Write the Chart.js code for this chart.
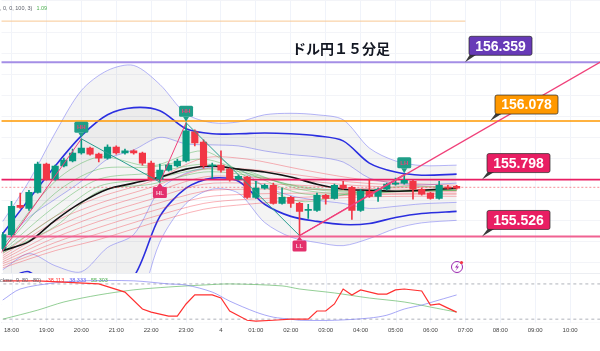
<!DOCTYPE html>
<html>
<head>
<meta charset="utf-8">
<script src="https://cdn.jsdelivr.net/npm/chart.js@4.4.1/dist/chart.umd.min.js"></script>
<style>
  html, body { margin: 0; padding: 0; background: #fff; }
  #wrap { width: 600px; height: 351px; position: relative; }
</style>
</head>
<body>
<div id="wrap"><canvas id="chart"></canvas></div>
<script>
// bar index on the x axis: 0 = 18:00, one step = one 15 minute candle
const hourLabels = ['18:00', '19:00', '20:00', '21:00', '22:00', '23:00', '4', '01:00', '02:00',
    '03:00', '04:00', '05:00', '06:00', '07:00', '08:00', '09:00', '10:00'];
const candleStart = -1;   // first visible candle is 17:45

// USD/JPY 15m candles
const opens  = [155.468, 155.535, 155.675, 155.660, 155.737, 155.872, 155.800, 155.863, 155.887, 155.925,
                155.949, 155.920, 155.901, 155.954, 155.925, 155.935, 155.925, 155.877, 155.800, 155.843,
                155.863, 155.887, 156.026, 155.978, 155.863, 155.867, 155.848, 155.800, 155.810, 155.713,
                155.757, 155.771, 155.684, 155.713, 155.684, 155.651, 155.651, 155.723, 155.708, 155.771,
                155.761, 155.651, 155.742, 155.718, 155.752, 155.776, 155.781, 155.790, 155.752, 155.733,
                155.708, 155.761, 155.766];
const closes = [155.535, 155.670, 155.665, 155.737, 155.872, 155.800, 155.863, 155.891, 155.925, 155.949,
                155.920, 155.901, 155.954, 155.925, 155.935, 155.925, 155.877, 155.800, 155.843, 155.867,
                155.887, 156.031, 155.973, 155.863, 155.867, 155.843, 155.800, 155.814, 155.713, 155.757,
                155.771, 155.684, 155.713, 155.684, 155.646, 155.656, 155.723, 155.708, 155.771, 155.757,
                155.651, 155.742, 155.718, 155.752, 155.776, 155.781, 155.795, 155.752, 155.728, 155.708,
                155.771, 155.757, 155.757];
const highs  = [155.545, 155.694, 155.733, 155.747, 155.882, 155.877, 155.867, 155.901, 155.944, 155.993,
                155.954, 155.925, 155.964, 155.959, 155.944, 155.940, 155.930, 155.887, 155.872, 155.877,
                155.896, 156.070, 156.036, 155.988, 155.877, 155.935, 155.853, 155.819, 155.814, 155.790,
                155.776, 155.781, 155.757, 155.718, 155.689, 155.680, 155.733, 155.728, 155.776, 155.790,
                155.766, 155.752, 155.800, 155.757, 155.781, 155.805, 155.824, 155.795, 155.757, 155.737,
                155.790, 155.771, 155.771];
const lows   = [155.458, 155.526, 155.660, 155.651, 155.733, 155.795, 155.795, 155.858, 155.882, 155.920,
                155.915, 155.882, 155.896, 155.920, 155.920, 155.920, 155.867, 155.795, 155.786, 155.838,
                155.858, 155.882, 155.959, 155.853, 155.805, 155.834, 155.790, 155.795, 155.708, 155.708,
                155.752, 155.680, 155.680, 155.665, 155.530, 155.612, 155.646, 155.680, 155.704, 155.752,
                155.607, 155.646, 155.713, 155.694, 155.747, 155.771, 155.776, 155.704, 155.723, 155.704,
                155.704, 155.752, 155.752];

// bollinger bands (1, 2, 3 sigma) and the black moving average
const bandIdx = [-1, 2, 5, 8, 11, 14, 17, 20, 23, 26, 29, 32, 35, 38, 41, 44, 47, 51];
const bbUp3 = [155.598, 155.790, 156.021, 156.224, 156.320, 156.344, 156.253, 156.113, 156.070, 156.074,
               156.108, 156.115, 156.108, 156.084, 155.949, 155.887, 155.865, 155.867];
const bbUp2 = [155.540, 155.704, 155.863, 156.007, 156.108, 156.142, 156.127, 156.041, 156.017, 156.017,
               156.021, 156.017, 156.007, 155.983, 155.877, 155.834, 155.819, 155.824];
const bbUp1 = [155.482, 155.617, 155.704, 155.790, 155.896, 155.940, 156.000, 155.969, 155.964, 155.959,
               155.935, 155.918, 155.906, 155.882, 155.805, 155.781, 155.773, 155.781];
const bbLo1 = [155.367, 155.444, 155.386, 155.357, 155.473, 155.535, 155.749, 155.829, 155.858, 155.848,
               155.766, 155.721, 155.699, 155.684, 155.660, 155.670, 155.682, 155.689];
const bbLo2 = [155.309, 155.357, 155.227, 155.140, 155.261, 155.333, 155.622, 155.757, 155.805, 155.790,
               155.680, 155.622, 155.598, 155.583, 155.588, 155.617, 155.636, 155.646];
const bbLo3 = [155.251, 155.270, 155.068, 154.924, 155.049, 155.131, 155.499, 155.684, 155.752, 155.733,
               155.593, 155.523, 155.497, 155.482, 155.516, 155.564, 155.591, 155.603];
const maBlack = [155.458, 155.501, 155.603, 155.689, 155.752, 155.781, 155.810, 155.848, 155.863, 155.848,
                 155.834, 155.810, 155.776, 155.752, 155.747, 155.742, 155.747, 155.757];

// EMA ribbons
const ribbonIdx = [-1, 5, 10, 16, 22, 27, 33, 39, 45, 51];
const emaG1 = [155.477, 155.790, 155.906, 155.863, 155.935, 155.810, 155.694, 155.733, 155.766, 155.757];
const emaG2 = [155.468, 155.733, 155.848, 155.858, 155.896, 155.829, 155.733, 155.728, 155.747, 155.752];
const emaG3 = [155.458, 155.670, 155.800, 155.829, 155.872, 155.838, 155.752, 155.728, 155.742, 155.747];
const emaG4 = [155.453, 155.622, 155.766, 155.800, 155.848, 155.829, 155.761, 155.737, 155.742, 155.747];
const emaG5 = [155.448, 155.574, 155.742, 155.776, 155.834, 155.819, 155.766, 155.742, 155.742, 155.747];
const emaR1 = [155.444, 155.622, 155.713, 155.790, 155.901, 155.896, 155.848, 155.805, 155.781, 155.771];
const emaR2 = [155.434, 155.598, 155.684, 155.761, 155.848, 155.848, 155.819, 155.786, 155.771, 155.761];
const emaR3 = [155.424, 155.569, 155.656, 155.733, 155.810, 155.810, 155.795, 155.771, 155.761, 155.757];
const emaR4 = [155.415, 155.545, 155.627, 155.704, 155.776, 155.781, 155.771, 155.757, 155.752, 155.747];
const emaR5 = [155.405, 155.521, 155.598, 155.675, 155.742, 155.752, 155.752, 155.747, 155.742, 155.742];
const emaR6 = [155.396, 155.497, 155.569, 155.646, 155.713, 155.728, 155.733, 155.733, 155.733, 155.733];
const emaR7 = [155.386, 155.477, 155.540, 155.617, 155.684, 155.704, 155.713, 155.723, 155.728, 155.728];
const emaR8 = [155.376, 155.458, 155.511, 155.588, 155.656, 155.680, 155.699, 155.713, 155.718, 155.718];

// zigzag swings
const swingIdx   = [-2, 8, 17, 20, 33, 45];
const swingPrice = [155.400, 155.993, 155.786, 156.070, 155.530, 155.824];
const swingLabel = ['', 'HH', 'HL', 'HH', 'LL', 'LH'];

// drawn levels and the trend line
const levelValues = [156.359, 156.078, 155.798, 155.526];
const topLevel = 156.556;
const lastPrice = 155.761;
const trendIdx = [33, 67.5];
const trendPrice = [155.530, 156.361];

// oscillator pane (bar index, value)
const oscRed = [[-1, 94], [3, 94], [10, 80], [13, 43], [15, -34], [16, -48], [18, -66], [19, -66], [20, -11],
                [21, 30], [23, 30], [24, 16], [25, -43], [27, -85], [28, -89], [30, -85], [32, -80], [34, -80],
                [35, -43], [36, -43], [37, -11], [38, 57], [39, 30], [40, 53], [42, 34], [43, 34], [44, 53],
                [45, 57], [47, 48], [48, -16], [49, -11], [50, -30], [51, -48]];
const oscBlue = [[-1, 7], [1, 57], [5, 85], [8, 94], [14, 94], [18, 80], [20, 75], [23, 43], [25, 2], [28, -48],
                 [30, -71], [32, -80], [33, -85], [37, -85], [41, -75], [43, -62], [45, -34], [47, -16], [49, 7], [51, 30]];
const oscGreen = [[-1, -80], [3, -39], [6, -2], [10, 30], [14, 53], [18, 66], [22, 75], [25, 80], [31, 71],
                  [33, 57], [37, 39], [41, 16], [45, -2], [48, -25], [51, -48]];
const oscLevels = [80, -80];

// ---------------------------------------------------------------
const UP = '#089981';
const DOWN = '#f23645';
const PANE_TOP = 273;

const pts = (xs, ys) => xs.map((x, k) => ({ x: x, y: ys[k] }));
const pairs = arr => arr.map(p => ({ x: p[0], y: p[1] }));

function line(data, color, width, order, extra) {
    return Object.assign({
        type: 'line', data: data, borderColor: color, borderWidth: width,
        pointRadius: 0, fill: false, tension: 0.3, order: order, yAxisID: 'y'
    }, extra || {});
}

const datasets = [];

// bands (index 0..5) with fills
datasets.push(line(pts(bandIdx, bbUp3), 'rgba(120,120,240,0.55)', 1, 40, { fill: 5, backgroundColor: 'rgba(0,0,0,0.045)' }));
datasets.push(line(pts(bandIdx, bbUp2), '#2b2fe0', 1.6, 39, { fill: 2, backgroundColor: 'rgba(0,0,0,0.035)' }));
datasets.push(line(pts(bandIdx, bbUp1), 'rgba(120,120,240,0.55)', 1, 39));
datasets.push(line(pts(bandIdx, bbLo1), 'rgba(120,120,240,0.55)', 1, 39, { fill: 4, backgroundColor: 'rgba(0,0,0,0.02)' }));
datasets.push(line(pts(bandIdx, bbLo2), '#2b2fe0', 1.6, 39));
datasets.push(line(pts(bandIdx, bbLo3), 'rgba(120,120,240,0.55)', 1, 39));

[emaR8, emaR7, emaR6, emaR5, emaR4, emaR3, emaR2, emaR1].forEach(function (r) {
    datasets.push(line(pts(ribbonIdx, r), 'rgba(242,54,69,0.38)', 1, 30));
});
[emaG5, emaG4, emaG3, emaG2, emaG1].forEach(function (g) {
    datasets.push(line(pts(ribbonIdx, g), 'rgba(76,175,80,0.45)', 1, 29));
});
datasets.push(line(pts(bandIdx, maBlack), '#131313', 1.6, 28));

// horizontal levels
const levelColors = ['#a48ee6', '#ff9800', '#e91e63', '#f06292'];
const levelWidths = [2, 1.6, 1.6, 2];
levelValues.forEach(function (v, k) {
    datasets.push(line([{ x: -3, y: v }, { x: 70, y: v }], levelColors[k], levelWidths[k], 20, { tension: 0 }));
});
datasets.push(line([{ x: -3, y: topLevel }, { x: 52, y: topLevel }], '#f8c894', 1, 20, { tension: 0 }));
datasets.push(line([{ x: -3, y: lastPrice }, { x: 70, y: lastPrice }], 'rgba(242,54,69,0.55)', 1, 20,
    { tension: 0, borderDash: [2, 2] }));

// candles
const candleColor = opens.map((o, k) => closes[k] >= o ? UP : DOWN);
datasets.push({
    type: 'bar', order: 12, yAxisID: 'y', grouped: false, barThickness: 1,
    data: opens.map((o, k) => ({ x: candleStart + k, y: [lows[k], highs[k]] })),
    backgroundColor: candleColor
});
datasets.push({
    type: 'bar', order: 11, yAxisID: 'y', grouped: false, barThickness: 6.5, minBarLength: 1,
    data: opens.map((o, k) => ({ x: candleStart + k, y: [o, closes[k]] })),
    backgroundColor: candleColor
});

// zigzag + trend line
datasets.push(line(pts(swingIdx, swingPrice), '#2a9d8f', 1, 10, {
    tension: 0,
    segment: { borderColor: c => c.p1.parsed.y > c.p0.parsed.y ? '#f0407a' : '#2a9d8f' }
}));
datasets.push(line(pts(trendIdx, trendPrice), '#f0407a', 1.2, 9, { tension: 0 }));

// oscillator pane
datasets.push(line([{ x: -3, y: oscLevels[0] }, { x: 70, y: oscLevels[0] }], '#b0b3bb', 1, 5,
    { tension: 0, borderDash: [3, 3], yAxisID: 'osc', paneStart: true }));
datasets.push(line([{ x: -3, y: oscLevels[1] }, { x: 70, y: oscLevels[1] }], '#b0b3bb', 1, 4,
    { tension: 0, borderDash: [3, 3], yAxisID: 'osc' }));
datasets.push(line(pairs(oscGreen), 'rgba(76,175,80,0.6)', 1, 3, { yAxisID: 'osc', tension: 0.3 }));
datasets.push(line(pairs(oscBlue), 'rgba(110,110,240,0.6)', 1, 2, { yAxisID: 'osc', tension: 0.3 }));
datasets.push(line(pairs(oscRed), '#ff3030', 1.2, 1, { yAxisID: 'osc', tension: 0 }));

function roundRect(ctx, x, y, w, h, r) {
    ctx.beginPath();
    ctx.moveTo(x + r, y);
    ctx.arcTo(x + w, y, x + w, y + h, r);
    ctx.arcTo(x + w, y + h, x, y + h, r);
    ctx.arcTo(x, y + h, x, y, r);
    ctx.arcTo(x, y, x + w, y, r);
    ctx.closePath();
}

// writes coloured text pieces one after another
function textRun(ctx, parts, x, y, gap) {
    parts.forEach(function (p) {
        ctx.fillStyle = p[1];
        ctx.fillText(p[0], x, y);
        x += ctx.measureText(p[0]).width + gap;
    });
}

const overlay = {
    id: 'overlay',
    beforeDatasetDraw: function (chart, args) {
        if (!chart.data.datasets[args.index].paneStart) return;
        // blank the lower pane, then redraw its grid
        const ctx = chart.ctx, area = chart.chartArea, xs = chart.scales.x;
        ctx.save();
        ctx.fillStyle = '#fff';
        ctx.fillRect(area.left, PANE_TOP, area.width, area.bottom - PANE_TOP);
        ctx.strokeStyle = '#f0f3fa';
        ctx.lineWidth = 1;
        xs.ticks.forEach(function (t) {
            const x = Math.round(xs.getPixelForValue(t.value)) + 0.5;
            ctx.beginPath();
            ctx.moveTo(x, PANE_TOP);
            ctx.lineTo(x, area.bottom);
            ctx.stroke();
        });
        ctx.strokeStyle = '#eceef2';
        ctx.beginPath();
        ctx.moveTo(area.left, PANE_TOP + 0.5);
        ctx.lineTo(area.right, PANE_TOP + 0.5);
        ctx.stroke();
        ctx.restore();
    },
    afterDraw: function (chart) {
        const ctx = chart.ctx, xs = chart.scales.x, ys = chart.scales.y;
        ctx.save();

        // title
        ctx.fillStyle = '#131722';
        ctx.font = 'bold 14px "Noto Sans CJK JP"';
        ctx.textBaseline = 'middle';
        ctx.fillText('ドル円１５分足', 292, 49);

        // level callouts
        const boxX = [469, 495, 487, 487];
        const boxTip = [465, 490, 482, 482];
        const boxColors = ['#673ab7', '#ff9800', '#e91e63', '#e91e63'];
        levelValues.forEach(function (v, k) {
            const py = ys.getPixelForValue(v);
            const bx = boxX[k], by = py - 26, bw = 63, bh = 19;
            ctx.fillStyle = '#3a3a3a';
            ctx.beginPath();
            ctx.moveTo(bx + 1, by + bh - 1);
            ctx.lineTo(bx + 8, by + bh - 1);
            ctx.lineTo(boxTip[k], py);
            ctx.closePath();
            ctx.fill();
            roundRect(ctx, bx, by, bw, bh, 2);
            ctx.fillStyle = boxColors[k];
            ctx.fill();
            ctx.strokeStyle = 'rgba(40,40,40,0.7)';
            ctx.lineWidth = 1;
            ctx.stroke();
            ctx.fillStyle = '#fff';
            ctx.font = 'bold 14px "Liberation Sans"';
            ctx.textAlign = 'center';
            ctx.fillText(v.toFixed(3), bx + bw / 2, by + bh / 2 + 1);
        });

        // zigzag markers
        ctx.font = 'bold 6px "Liberation Sans"';
        ctx.textAlign = 'center';
        swingIdx.forEach(function (i, k) {
            if (!swingLabel[k]) return;
            const px = xs.getPixelForValue(i), py = ys.getPixelForValue(swingPrice[k]);
            const isHigh = swingLabel[k] === 'HH' || swingLabel[k] === 'LH';
            const w = 14, h = 11;
            const top = isHigh ? py - 6 - h : py + 5;
            ctx.fillStyle = isHigh ? '#1f9e88' : '#e3306c';
            roundRect(ctx, px - w / 2, top, w, h, 1.5);
            ctx.fill();
            ctx.beginPath();
            if (isHigh) {
                ctx.moveTo(px - 3, top + h); ctx.lineTo(px + 3, top + h); ctx.lineTo(px, py - 1);
            } else {
                ctx.moveTo(px - 3, top); ctx.lineTo(px + 3, top); ctx.lineTo(px, py + 1);
            }
            ctx.fill();
            ctx.fillStyle = isHigh ? '#e8457a' : 'rgba(255,255,255,0.75)';
            ctx.fillText(swingLabel[k], px, top + h / 2 + 0.5);
        });

        // small legend texts
        ctx.textAlign = 'left';
        ctx.font = '5.5px "Liberation Sans"';
        textRun(ctx, [[', 0, 0, 100, 3)', '#5d606b'], ['1.09', '#4caf50']], 0, 8, 4);
        textRun(ctx, [['close, 9, 80, -80)', '#5d606b'], ['-38.113', '#ff3030'],
            ['38.333', '#5c5cf0'], ['55.303', '#4caf50']], 0, 280, 5);

        // alert icon
        ctx.strokeStyle = '#9c27b0';
        ctx.lineWidth = 1;
        ctx.beginPath();
        ctx.arc(457, 267, 5.5, 0, Math.PI * 2);
        ctx.stroke();
        ctx.fillStyle = '#9c27b0';
        ctx.beginPath();
        ctx.moveTo(458.5, 263); ctx.lineTo(455, 267.5); ctx.lineTo(457.2, 267.5);
        ctx.lineTo(455.5, 271); ctx.lineTo(459, 266.5); ctx.lineTo(456.8, 266.5);
        ctx.closePath();
        ctx.fill();
        ctx.fillStyle = '#f23645';
        ctx.beginPath();
        ctx.arc(461.5, 262.5, 1.6, 0, Math.PI * 2);
        ctx.fill();
        ctx.restore();
    }
};

new Chart(document.getElementById('chart'), {
    type: 'line',
    data: { datasets: datasets },
    options: {
        responsive: true,
        maintainAspectRatio: false,
        animation: false,
        devicePixelRatio: 1,
        layout: { padding: { left: 0, right: 0, top: 0, bottom: 13 } },
        plugins: { legend: { display: false }, tooltip: { enabled: false } },
        scales: {
            x: {
                type: 'linear', min: -10 / 8.75, max: 590 / 8.75, offset: false,
                grid: { color: '#f0f3fa', drawTicks: false, offset: false },
                border: { display: true, color: '#e0e3eb' },
                ticks: {
                    stepSize: 4, includeBounds: false, autoSkip: false, maxRotation: 0, maxTicksLimit: 100,
                    padding: 4, color: '#444', font: { size: 6, family: 'Liberation Sans' },
                    callback: v => (v % 4 === 0 && v >= 0) ? hourLabels[v / 4] : ''
                }
            },
            y: {
                type: 'linear', position: 'right', min: 155.113, max: 156.657,
                grid: { color: '#f3f4f8', drawTicks: false },
                border: { display: false },
                ticks: { display: false, stepSize: 0.1, maxTicksLimit: 60 }
            },
            osc: {
                type: 'linear', display: false, min: -96.5, max: 1369
            }
        }
    },
    plugins: [overlay]
});
</script>
</body>
</html>
